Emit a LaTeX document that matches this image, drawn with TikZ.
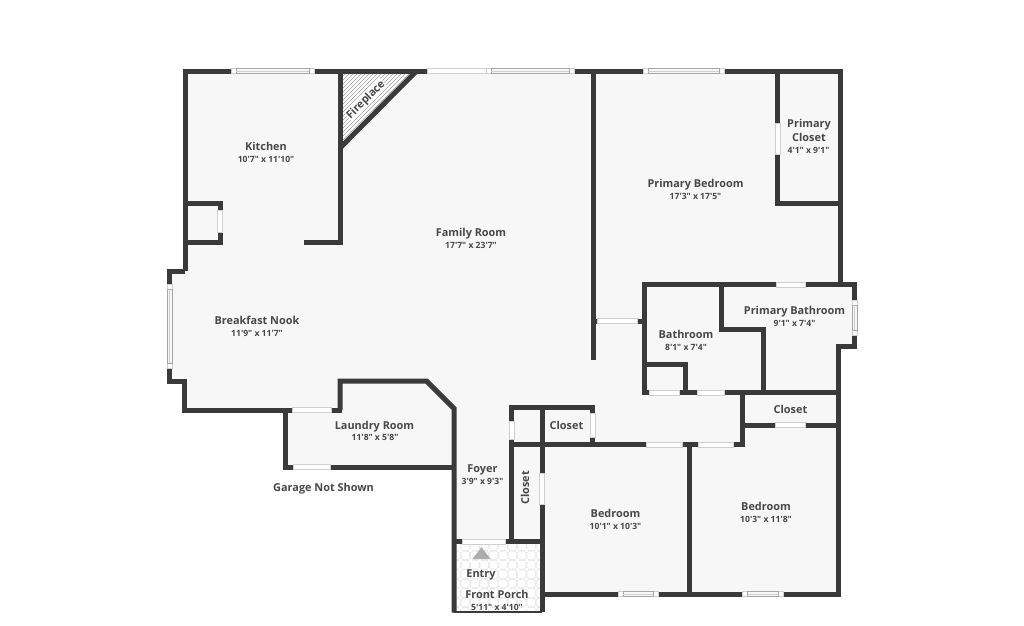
\documentclass[tikz,border=0pt]{standalone}
\usepackage{fontspec}
\setmainfont{Open Sans}[Ligatures=TeXOff]
\definecolor{wallgray}{HTML}{3A3A3A}
\definecolor{floorgray}{HTML}{F7F7F7}
\definecolor{labelgray}{HTML}{484848}
\definecolor{edgegray}{HTML}{CFCFCF}
\begin{document}
\begin{tikzpicture}[x=1pt,y=-1pt,
  wall/.style={draw=wallgray,line width=5pt,miter limit=10},
  opening/.style={fill=white,draw=edgegray,line width=0.6pt},
  pane/.style={fill=floorgray,draw=edgegray!80!black,line width=0.6pt},
  room/.style={font=\bfseries\fontsize{10.9}{13}\selectfont,text=labelgray,inner sep=0pt,anchor=base,yshift=-4pt},
  turned/.style={font=\bfseries\fontsize{10.9}{13}\selectfont,text=labelgray,inner sep=0.5pt},
  size/.style={font=\bfseries\fontsize{8.6}{10}\selectfont,text=labelgray,inner sep=0pt}]

  \useasboundingbox[fill=white] (0,0) rectangle (1024,625);

  % floor
  \fill[floorgray] (185,71) -- (840,71) -- (840,284) -- (855,284) -- (855,346) -- (838,346)
    -- (838,594) -- (542,594) -- (542,612) -- (454,612) -- (454,467) -- (285,467)
    -- (285,410) -- (184,410) -- (184,381) -- (170,381) -- (170,271) -- (185,271) -- cycle;

  % fireplace
  \begin{scope}
    \clip (340,71) -- (418,71) -- (340,149) -- cycle;
    \fill[white] (340,71) rectangle (418,149);
    \foreach \k in {344,348,...,424}
      \draw[black!38,line width=0.6pt] (\k,71) -- (\k-85,156);
  \end{scope}

  % porch tiles
  \begin{scope}
    \clip (454,542) rectangle (542,612);
    \fill[black!8] (454,542) rectangle (542,612);
    \foreach \i in {0,...,9}
      \foreach \j in {0,...,8} {
        \fill[white,rounded corners=1.5pt] (452.2+9.4*\i,542.2+9.4*\j) rectangle ++(7.6,7.6);
        \fill[white] (460.7+9.4*\i-1.4,550.7+9.4*\j-1.4) rectangle ++(2.8,2.8);
      }
  \end{scope}
  \fill[black!32] (481.5,547) -- (490.5,559) -- (472.5,559) -- cycle;

  % outer walls
  \draw[wall] (185,271) -- (185,71) -- (840,71) -- (840,284);
  \draw[wall] (805,284) -- (854.5,284) -- (854.5,346) -- (838.5,346) -- (838.5,594) -- (542,594);
  \draw[wall] (185,271) -- (169.5,271) -- (169.5,381) -- (184,381) -- (184,410) -- (342,410);
  \draw[wall] (285,410) -- (285,467) -- (454,467);
  \draw[wall] (340,410) -- (340,381) -- (426.5,381) -- (454,408.5) -- (454,612.5);
  \draw[wall,line width=2pt] (454,612) -- (542,612);

  % kitchen and fireplace
  \draw[wall] (340,71) -- (340,242.5) -- (304,242.5);
  \draw[wall] (416,71.5) -- (341,147);
  \draw[wall] (185,203) -- (220,203) -- (220,242.5) -- (185,242.5);

  % primary suite
  \draw[wall] (593,71) -- (593,360);
  \draw[wall] (777.5,71) -- (777.5,203.5) -- (840,203.5);
  \draw[wall] (593,321) -- (644.5,321);
  \draw[wall] (644.5,392.5) -- (644.5,284.5) -- (805,284.5);
  \draw[wall] (721,284) -- (721,329) -- (763.5,329) -- (763.5,392.5);
  \draw[wall] (644.5,364.5) -- (685,364.5) -- (685,392.5);
  \draw[wall] (642,392.5) -- (838,392.5);

  % closets and bedrooms
  \draw[wall] (742,392.5) -- (742,444.5);
  \draw[wall] (742,425) -- (838,425);
  \draw[wall] (511.5,541.5) -- (511.5,407.5) -- (592.5,407.5) -- (592.5,444.5);
  \draw[wall] (509,444.5) -- (745,444.5);
  \draw[wall] (542,407.5) -- (542,612);
  \draw[wall] (689.5,444.5) -- (689.5,594);
  \draw[wall] (454,541.5) -- (542,541.5);

  % doors
  \foreach \xa/\ya/\xb/\yb in {427/68.5/486/73.5,
      292/407.5/331/412.5,293/464.5/330/469.5,
      597/318.5/637/323.5,776.5/282/805.5/287,
      649.5/390/679/395,697/390/724/395,
      775/422.5/805/427.5,646/442/682/447,698.5/442/733/447,
      462/539/505/544,
      217.5/210/222.5/232,775/123.5/780/154.5,
      509/421/514/439.5,590/413/595/437,539.5/473/544.5/504.5}
    \filldraw[opening] (\xa,\ya) rectangle (\xb,\yb);

  % windows along a horizontal wall
  \foreach \xa/\xb/\yc in {231/314/71,486/574/71,643/724/71,618/658/594,742.5/783.5/594} {
    \filldraw[opening] (\xa,\yc-2.5) rectangle (\xb,\yc+2.5);
    \filldraw[pane] (\xa+5,\yc-2.5) rectangle (\xb-5,\yc+2.5);
    \draw[edgegray,line width=0.5pt] (\xa+5,\yc) -- (\xb-5,\yc);
  }
  % windows along a vertical wall
  \foreach \xc/\ya/\yb in {169.5/284/368,854.5/300/335} {
    \filldraw[opening] (\xc-2.5,\ya) rectangle (\xc+2.5,\yb);
    \filldraw[pane] (\xc-2.5,\ya+5) rectangle (\xc+2.5,\yb-5);
    \draw[edgegray,line width=0.5pt] (\xc,\ya+5) -- (\xc,\yb-5);
  }

  % labels
  \node[room] (kitchen) at (266,146) {Kitchen};
  \node[size] (kitchensize) at (266,159) {10'7" x 11'10"};
  \node[room] (family) at (471,232) {Family Room};
  \node[size] (familysize) at (471,245) {17'7" x 23'7"};
  \node[room] (primarybed) at (695.5,183) {Primary Bedroom};
  \node[size] (primarybedsize) at (695.5,196) {17'3" x 17'5"};
  \node[room] (primaryclosetA) at (809,123) {Primary};
  \node[room] (primaryclosetB) at (809,137) {Closet};
  \node[size] (primaryclosetsize) at (808.5,150) {4'1" x 9'1"};
  \node[room] (nook) at (257,320) {Breakfast Nook};
  \node[size] (nooksize) at (257,333) {11'9" x 11'7"};
  \node[room] (laundry) at (374.5,425) {Laundry Room};
  \node[size] (laundrysize) at (375,437) {11'8" x 5'8"};
  \node[room] (garage) at (323.5,487) {Garage Not Shown};
  \node[room] (bath) at (686,334) {Bathroom};
  \node[size] (bathsize) at (686,347) {8'1" x 7'4"};
  \node[room] (primarybath) at (794.5,310) {Primary Bathroom};
  \node[size] (primarybathsize) at (794.5,323) {9'1" x 7'4"};
  \node[room] (closetA) at (790.5,409) {Closet};
  \node[room] (closetB) at (566.5,425) {Closet};
  \node[turned,rotate=90] (closetC) at (525,488) {Closet};
  \node[room] (foyer) at (482.5,468) {Foyer};
  \node[size] (foyersize) at (482.5,481) {3'9" x 9'3"};
  \node[room] (bedA) at (615.5,513) {Bedroom};
  \node[size] (bedAsize) at (615.5,526) {10'1" x 10'3"};
  \node[room] (bedB) at (766,506) {Bedroom};
  \node[size] (bedBsize) at (766,519) {10'3" x 11'8"};
  \node[room] (entry) at (481,573) {Entry};
  \node[room] (porch) at (497,594) {Front Porch};
  \node[size] (porchsize) at (497,607) {5'11" x 4'10"};
  \node[turned,rotate=45,fill=white] (fireplace) at (366,100) {Fireplace};
\end{tikzpicture}
\end{document}
